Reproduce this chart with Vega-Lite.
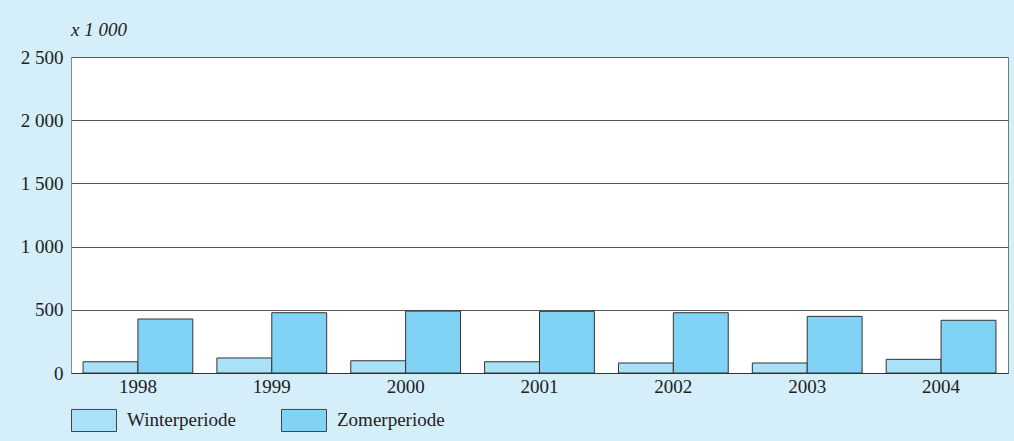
{
  "$schema": "https://vega.github.io/schema/vega-lite/v6.json",
  "width": 937,
  "height": 316,
  "autosize": {"type": "none"},
  "padding": {"left": 71, "top": 57, "right": 6, "bottom": 68},
  "background": "#d4eefa",
  "title": {"text": "x 1 000", "anchor": "start", "frame": "group", "font": "Liberation Serif", "fontSize": 19, "fontStyle": "italic", "fontWeight": "normal", "color": "#222", "baseline": "alphabetic", "offset": -7},
  "config": {
    "view": {"fill": "white", "stroke": "#777", "strokeWidth": 1},
    "font": "Liberation Serif"
  },
  "data": {"values": [
    {"jaar": "1998", "periode": "Winterperiode", "aantal": 89},
    {"jaar": "1998", "periode": "Zomerperiode", "aantal": 427},
    {"jaar": "1999", "periode": "Winterperiode", "aantal": 119},
    {"jaar": "1999", "periode": "Zomerperiode", "aantal": 477},
    {"jaar": "2000", "periode": "Winterperiode", "aantal": 97},
    {"jaar": "2000", "periode": "Zomerperiode", "aantal": 490},
    {"jaar": "2001", "periode": "Winterperiode", "aantal": 89},
    {"jaar": "2001", "periode": "Zomerperiode", "aantal": 488},
    {"jaar": "2002", "periode": "Winterperiode", "aantal": 79},
    {"jaar": "2002", "periode": "Zomerperiode", "aantal": 477},
    {"jaar": "2003", "periode": "Winterperiode", "aantal": 79},
    {"jaar": "2003", "periode": "Zomerperiode", "aantal": 448},
    {"jaar": "2004", "periode": "Winterperiode", "aantal": 108},
    {"jaar": "2004", "periode": "Zomerperiode", "aantal": 417}
  ]},
  "mark": {"type": "bar", "stroke": "#333", "strokeWidth": 1},
  "encoding": {
    "x": {"field": "jaar", "type": "nominal", "title": null,
      "scale": {"paddingInner": 0.18, "paddingOuter": 0.09},
      "axis": {"labelAngle": 0, "ticks": false, "labelPadding": 4, "labelFontSize": 19, "labelColor": "#222", "labelFont": "Liberation Serif", "domainColor": "#333", "domainWidth": 1, "grid": false}},
    "xOffset": {"field": "periode", "type": "nominal", "sort": ["Winterperiode", "Zomerperiode"]},
    "y": {"field": "aantal", "type": "quantitative", "title": null,
      "scale": {"domain": [0, 2500], "nice": false},
      "axis": {"values": [0, 500, 1000, 1500, 2000, 2500], "ticks": false, "labelPadding": 8, "labelFontSize": 19, "labelColor": "#222", "labelFont": "Liberation Serif",
        "labelExpr": "replace(format(datum.value, ','), ',', ' ')",
        "domainColor": "#888", "grid": true, "gridColor": "#555", "gridWidth": 1, "gridOpacity": 1}},
    "color": {"field": "periode", "type": "nominal", "sort": ["Winterperiode", "Zomerperiode"],
      "scale": {"domain": ["Winterperiode", "Zomerperiode"], "range": ["#a9e1f9", "#81d3f6"]},
      "legend": {"title": null, "orient": "none", "legendX": 0, "legendY": 340, "direction": "horizontal",
        "symbolType": "M-1,-0.49H1V0.49H-1Z", "symbolSize": 2025, "symbolStrokeColor": "#444", "symbolStrokeWidth": 1, "symbolOpacity": 1,
        "labelFontSize": 19, "labelFont": "Liberation Serif", "labelColor": "#222", "labelOffset": 10, "columnPadding": 43, "labelLimit": 300}}
  }
}
